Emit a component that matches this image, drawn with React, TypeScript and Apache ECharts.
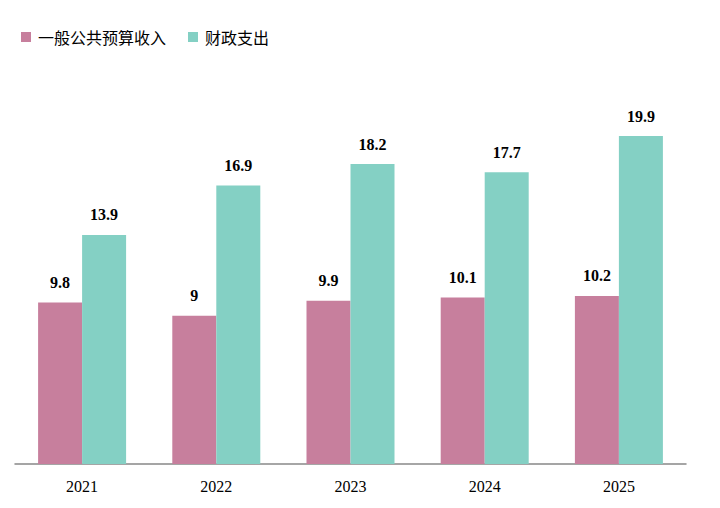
import React, { useEffect, useRef } from "react";
import * as echarts from "echarts";

const categories = ["2021", "2022", "2023", "2024", "2025"];
const revenue = [9.8, 9, 9.9, 10.1, 10.2];
const expenditure = [13.9, 16.9, 18.2, 17.7, 19.9];
const seriesNames = ["一般公共预算收入", "财政支出"];

export default function App() {
  const ref = useRef<HTMLDivElement>(null);
  useEffect(() => {
    if (!ref.current) return;
    const chart = echarts.init(ref.current, null, { renderer: "svg" });
    const labelStyle = {
      show: true,
      position: "top" as const,
      distance: 12,
      fontFamily: "'Liberation Serif', 'Times New Roman', serif",
      fontWeight: "bold" as const,
      fontSize: 16,
      color: "#000",
    };
    chart.setOption({
      animation: false,
      legend: {
        left: 8,
        top: 16,
        itemWidth: 10,
        itemHeight: 10,
        itemGap: 22,
        icon: "rect",
        textStyle: {
          fontFamily: "'Noto Sans CJK SC', sans-serif",
          fontSize: 16,
          color: "#000",
          padding: [0, 0, 0, 2],
        },
        data: seriesNames,
      },
      grid: { left: 7, right: 26, top: 126.4, bottom: 36, containLabel: false },
      xAxis: {
        type: "category",
        data: categories,
        axisLine: { lineStyle: { color: "#888", width: 1.5 } },
        axisTick: { show: false },
        axisLabel: {
          margin: 14,
          fontFamily: "'Liberation Serif', 'Times New Roman', serif",
          fontSize: 16,
          color: "#000",
        },
      },
      yAxis: {
        type: "value",
        min: 0,
        max: 20,
        show: false,
        splitLine: { show: false },
      },
      series: [
        {
          name: seriesNames[0],
          type: "bar",
          data: revenue,
          barWidth: 44,
          barGap: "0%",
          itemStyle: { color: "#C77F9D" },
          label: labelStyle,
        },
        {
          name: seriesNames[1],
          type: "bar",
          data: expenditure,
          barWidth: 44,
          barGap: "0%",
          itemStyle: { color: "#84D0C4" },
          label: labelStyle,
        },
      ],
    });
    return () => chart.dispose();
  }, []);
  return <div ref={ref} style={{ width: 704, height: 492 }} />;
}
